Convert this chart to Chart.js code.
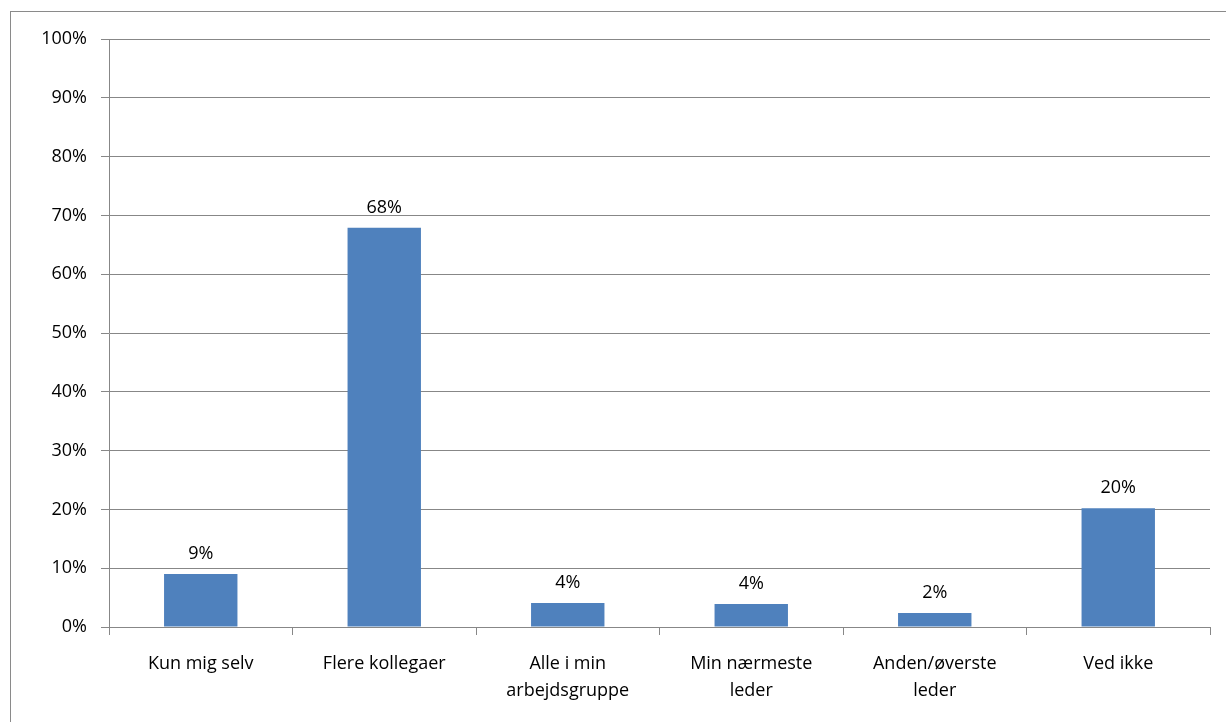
<!DOCTYPE html>
<html>
<head>
<meta charset="utf-8">
<script src="https://cdn.jsdelivr.net/npm/chart.js@4/dist/chart.umd.min.js"></script>
<style>
  html, body { margin: 0; padding: 0; background: #fff; }
  #wrap { width: 1226px; height: 722px; position: relative; }
</style>
</head>
<body>
<div id="wrap"><canvas id="c" width="1226" height="722"></canvas></div>
<script>
const categories = [
  "Kun mig selv",
  "Flere kollegaer",
  ["Alle i min", "arbejdsgruppe"],
  ["Min nærmeste", "leder"],
  ["Anden/øverste", "leder"],
  "Ved ikke"
];
const values = [9.0, 67.9, 4.1, 3.9, 2.4, 20.2];
const yTicks = [0, 10, 20, 30, 40, 50, 60, 70, 80, 90, 100];

const FONT = "'Open Sans', 'Liberation Sans', sans-serif";
const GRID = '#878787';

const frame = {
  id: 'frame',
  beforeDraw(chart) {
    const ctx = chart.ctx;
    ctx.save();
    ctx.fillStyle = '#fff';
    ctx.fillRect(0, 0, chart.width, chart.height);
    ctx.strokeStyle = '#8a8a8a';
    ctx.lineWidth = 1;
    ctx.strokeRect(10.5, 11.5, 1400, 900);
    ctx.restore();
  }
};

const barLabels = {
  id: 'barLabels',
  afterDatasetsDraw(chart) {
    const ctx = chart.ctx;
    const meta = chart.getDatasetMeta(0);
    ctx.save();
    ctx.font = '18px ' + FONT;
    ctx.fillStyle = '#000';
    ctx.textAlign = 'center';
    ctx.textBaseline = 'alphabetic';
    meta.data.forEach((bar, i) => {
      ctx.fillText(Math.round(values[i]) + '%', bar.x, bar.y - 15);
    });
    ctx.restore();
  }
};

new Chart(document.getElementById('c'), {
  type: 'bar',
  data: {
    labels: categories,
    datasets: [{
      data: values,
      backgroundColor: '#4F81BD',
      borderWidth: 0,
      categoryPercentage: 1.0,
      barPercentage: 0.4
    }]
  },
  options: {
    responsive: false,
    animation: false,
    devicePixelRatio: 1,
    layout: { padding: { top: 39, right: 16, left: 0, bottom: 0 } },
    plugins: { legend: { display: false }, tooltip: { enabled: false } },
    scales: {
      y: {
        min: 0, max: 100,
        afterFit(s) { s.width = 109; },
        afterBuildTicks(s) { s.ticks = yTicks.map(v => ({ value: v })); },
        ticks: {
          callback: v => v + '%',
          color: '#000',
          font: { family: FONT, size: 18 },
          padding: 14
        },
        grid: { color: GRID, lineWidth: 1, tickLength: 8, drawTicks: true },
        border: { color: GRID, width: 1 }
      },
      x: {
        afterFit(s) { s.height = 95; },
        ticks: {
          color: '#000',
          font: { family: FONT, size: 18, lineHeight: 1.5 },
          padding: 15,
          maxRotation: 0,
          autoSkip: false
        },
        grid: { offset: true, drawOnChartArea: false, drawTicks: true, tickLength: 8, color: GRID },
        border: { color: GRID, width: 1 }
      }
    }
  },
  plugins: [frame, barLabels]
});
</script>
</body>
</html>
